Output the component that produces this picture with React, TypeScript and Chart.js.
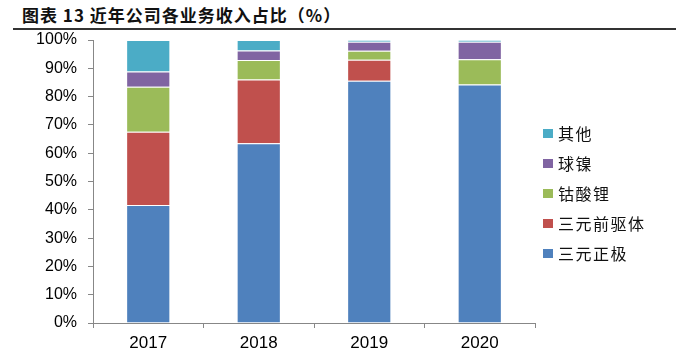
import React, { useEffect, useRef } from 'react';
import { Chart, registerables } from 'chart.js';

Chart.register(...registerables);

const years = ['2017', '2018', '2019', '2020'];
const cathode = [41.7, 63.5, 85.6, 84.3];
const precursor = [25.9, 22.5, 7.4, 0];
const licoo2 = [15.9, 6.9, 3.2, 8.9];
const nickel = [5.4, 3.4, 3.2, 6.2];
const others = [11.1, 3.7, 0.6, 0.6];

const seriesNames = ['三元正极', '三元前驱体', '钴酸锂', '球镍', '其他'];
const seriesColors = ['#4F81BD', '#C0504D', '#9BBB59', '#8064A2', '#4BACC6'];
const seriesData = [cathode, precursor, licoo2, nickel, others];

const titleText = '图表 13 近年公司各业务收入占比（%）';

export default function App() {
  const ref = useRef<HTMLCanvasElement | null>(null);

  useEffect(() => {
    const canvas = ref.current;
    if (!canvas) return;
    const chart = new Chart(canvas, {
      type: 'bar',
      data: {
        labels: years,
        datasets: seriesNames.map((name, i) => ({
          label: name,
          data: seriesData[i],
          backgroundColor: seriesColors[i],
          borderColor: 'rgba(255,255,255,0.45)',
          borderWidth: 1,
          barPercentage: 0.4,
          categoryPercentage: 1,
        })),
      },
      options: {
        animation: false,
        responsive: false,
        devicePixelRatio: 1,
        layout: { padding: { top: 40, right: 141, left: 0, bottom: 0 } },
        plugins: {
          legend: { display: false },
          title: { display: false },
          tooltip: { enabled: false },
        },
        scales: {
          x: {
            stacked: true,
            afterFit: (s: any) => { s.height = 28; },
            grid: { drawOnChartArea: false, drawTicks: true, tickLength: 5, color: '#878787', offset: true },
            border: { display: true, color: '#878787', width: 1 },
            ticks: { color: '#000', padding: 5, font: { family: 'Liberation Sans, Arial', size: 17 } },
          },
          y: {
            stacked: true,
            min: 0,
            max: 100,
            afterFit: (s: any) => { s.width = 93; },
            grid: { drawOnChartArea: false, drawTicks: true, tickLength: 5, color: '#878787' },
            border: { display: true, color: '#878787', width: 1 },
            ticks: {
              stepSize: 10,
              color: '#000',
              padding: 11,
              font: { family: 'Liberation Sans, Arial', size: 16 },
              callback: (v: any) => v + '%',
            },
          },
        },
      },
    });
    return () => chart.destroy();
  }, []);

  const legendItems = seriesNames.map((n, i) => ({ n, c: seriesColors[i] })).reverse();

  return (
    <div style={{ position: 'fixed', left: 0, top: 0, width: 676, height: 351, background: '#fff', overflow: 'hidden' }}>
      <div style={{ position: 'absolute', left: 22, top: 3, fontFamily: '"Noto Sans CJK SC", "Liberation Sans", sans-serif', fontWeight: 700, fontSize: 17, letterSpacing: 1, lineHeight: '24px', color: '#111', whiteSpace: 'pre' }}>
        {titleText}
      </div>
      <div style={{ position: 'absolute', left: 13, top: 28, width: 663, height: 2, background: '#333' }} />
      <canvas ref={ref} width={676} height={351} style={{ position: 'absolute', left: 0, top: 0, width: 676, height: 351 }} />
      {legendItems.map((it, i) => (
        <div key={it.n} style={{ position: 'absolute', left: 543, top: 133 + i * 30 - 12, height: 24, display: 'flex', alignItems: 'center', whiteSpace: 'nowrap' }}>
          <span style={{ display: 'inline-block', width: 10, height: 9, background: it.c, marginRight: 5 }} />
          <span style={{ fontFamily: '"Noto Sans CJK SC", sans-serif', fontSize: 16, letterSpacing: 1.5, color: '#111', lineHeight: '24px' }}>{it.n}</span>
        </div>
      ))}
    </div>
  );
}
